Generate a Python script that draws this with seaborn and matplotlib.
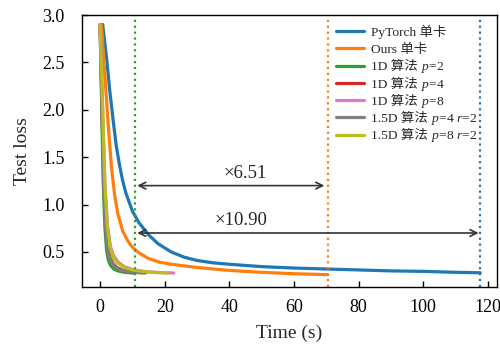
import matplotlib
matplotlib.use("Agg")
import matplotlib.pyplot as plt
from matplotlib.transforms import IdentityTransform
import seaborn as sns
import pandas as pd

# ---- data ----
series_names = ["PyTorch 单卡", "Ours 单卡", "1D 算法 $p$=2", "1D 算法 $p$=4",
                "1D 算法 $p$=8", "1.5D 算法 $p$=4 $r$=2", "1.5D 算法 $p$=8 $r$=2"]
series_base = ["PyTorch 单卡", "Ours 单卡", "1D 算法", "1D 算法", "1D 算法", "1.5D 算法", "1.5D 算法"]
series_params = ["", "", "$p$=2", "$p$=4", "$p$=8", "$p$=4 $r$=2", "$p$=8 $r$=2"]
series_colors = ["#1f77b4", "#ff7f0e", "#2ca02c", "#d62728", "#e377c2", "#7f7f7f", "#bcbd22"]

t_pytorch = [0.8, 2, 3, 4, 5, 6, 7, 8, 10, 12, 15, 18, 22, 26, 30, 35, 40, 50, 60, 70, 80, 90, 100, 110, 117.6]
l_pytorch = [2.9, 2.55, 2.2, 1.9, 1.62, 1.42, 1.25, 1.12, 0.93, 0.81, 0.68, 0.585, 0.50, 0.445, 0.41,
             0.385, 0.37, 0.345, 0.33, 0.32, 0.31, 0.30, 0.295, 0.285, 0.28]

t_ours = [0.4, 1.5, 2.5, 3.5, 4.5, 5.5, 7, 8.5, 10, 12, 15, 18.6, 22, 29, 35, 40, 50, 60, 70.4]
l_ours = [2.9, 2.35, 1.85, 1.4, 1.1, 0.9, 0.72, 0.62, 0.55, 0.49, 0.43, 0.39, 0.37, 0.34, 0.32,
          0.305, 0.285, 0.27, 0.26]

t_1d_p2 = [0, 0.5, 1.0, 1.5, 2.0, 2.5, 3.2, 4.2, 5.5, 7.5, 10.8]
l_1d_p2 = [2.9, 2.0, 1.2, 0.75, 0.52, 0.42, 0.36, 0.32, 0.30, 0.285, 0.275]

t_1d_p4 = [0, 0.6, 1.2, 1.8, 2.4, 3.1, 4.0, 5.2, 7.0, 10.0, 14.0]
l_1d_p4 = [2.9, 2.0, 1.2, 0.75, 0.54, 0.44, 0.375, 0.335, 0.305, 0.29, 0.278]

t_1d_p8 = [0, 0.8, 1.5, 2.3, 3.2, 4.2, 5.5, 7.5, 10.5, 14.5, 19.0, 22.8]
l_1d_p8 = [2.9, 2.0, 1.2, 0.78, 0.56, 0.46, 0.395, 0.345, 0.31, 0.29, 0.282, 0.278]

t_15d_p4 = [0, 0.6, 1.1, 1.7, 2.3, 3.0, 3.8, 5.0, 6.5, 9.0, 13.0]
l_15d_p4 = [2.9, 2.0, 1.2, 0.75, 0.53, 0.43, 0.37, 0.33, 0.305, 0.29, 0.278]

t_15d_p8 = [0, 0.8, 1.5, 2.2, 3.1, 4.0, 5.2, 7.2, 10.0, 14.0, 18.0, 21.0]
l_15d_p8 = [2.9, 2.0, 1.2, 0.78, 0.55, 0.45, 0.39, 0.34, 0.31, 0.29, 0.282, 0.278]

# end times used for the speed-up markers
t_end_fast = 10.8
t_end_ours = 70.4
t_end_pytorch = 117.6
speedup_labels = ["×6.51", "×10.90"]

x_ticks = [0, 20, 40, 60, 80, 100, 120]
y_ticks = [0.5, 1.0, 1.5, 2.0, 2.5, 3.0]

# ---- build long-form table ----
all_t = [t_pytorch, t_ours, t_1d_p2, t_1d_p4, t_1d_p8, t_15d_p4, t_15d_p8]
all_l = [l_pytorch, l_ours, l_1d_p2, l_1d_p4, l_1d_p8, l_15d_p4, l_15d_p8]
rows = []
for name, ts, ls in zip(series_names, all_t, all_l):
    for t, l in zip(ts, ls):
        rows.append({"Time": t, "Loss": l, "Series": name})
df = pd.DataFrame(rows)

sns.set_theme(style="ticks")
plt.rcParams["font.family"] = ["Liberation Serif", "Noto Sans CJK SC"]
plt.rcParams["mathtext.fontset"] = "custom"
plt.rcParams["mathtext.rm"] = "Liberation Serif"
plt.rcParams["mathtext.it"] = "Liberation Serif:italic"
plt.rcParams["xtick.direction"] = "in"
plt.rcParams["ytick.direction"] = "in"

fig = plt.figure(figsize=(5, 3.5), dpi=100)
ax = fig.add_axes([0.164, 0.18, 0.83, 0.777])

sns.lineplot(data=df, x="Time", y="Loss", hue="Series", hue_order=series_names,
             palette=series_colors, estimator=None, sort=False, linewidth=2.3,
             ax=ax)

for xv, c in zip([t_end_fast, t_end_ours, t_end_pytorch], [series_colors[2], series_colors[1], series_colors[0]]):
    ax.axvline(xv, color=c, linestyle=":", linewidth=1.6)

arrow_kw = dict(arrowstyle="<->", color="#333333", lw=1.2, shrinkA=0, shrinkB=0)
ax.annotate("", xy=(t_end_fast + 0.7, 1.2), xytext=(t_end_ours - 1.0, 1.2), arrowprops=arrow_kw)
ax.annotate("", xy=(t_end_fast + 0.7, 0.70), xytext=(t_end_pytorch - 0.5, 0.70), arrowprops=arrow_kw)
ax.text(45, 1.33, speedup_labels[0], ha="center", va="center", fontsize=13.5)
ax.text(43.5, 0.83, speedup_labels[1], ha="center", va="center", fontsize=13.5)

ax.set_xlim(-5.6, 122.8)
ax.set_ylim(0.13, 3.0)
ax.set_xticks(x_ticks)
ax.set_yticks(y_ticks)
ax.set_xlabel("Time (s)", fontsize=14, labelpad=6)
ax.set_ylabel("Test loss", fontsize=14, labelpad=8)
ax.tick_params(axis="both", direction="in", length=4, width=1, labelsize=13, colors="black")
ax.tick_params(axis="x", pad=9)
ax.tick_params(axis="y", pad=12.5)
for s in ax.spines.values():
    s.set_color("black")
    s.set_linewidth(1.0)

leg = ax.legend(loc="upper left", frameon=False, fontsize=9.7, handlelength=2.1,
                handletextpad=0.55, borderaxespad=0.0, borderpad=0.4, labelspacing=0.36,
                bbox_to_anchor=(0.598, 0.985))
for line in leg.get_lines():
    line.set_linewidth(2.3)
for txt, base in zip(leg.get_texts(), series_base):
    txt.set_text(base)

# append the italic parameter part after each legend label
fig.canvas.draw()
renderer = fig.canvas.get_renderer()
for txt, suffix in zip(leg.get_texts(), series_params):
    if not suffix:
        continue
    bb = txt.get_window_extent(renderer)
    x0, y0 = txt.get_transform().transform(txt.get_position())
    fig.text(bb.x1 + 2.5, y0, suffix, transform=IdentityTransform(), ha="left",
             va=txt.get_va(), fontsize=9.7)

fig.savefig("out.png", dpi=100)
